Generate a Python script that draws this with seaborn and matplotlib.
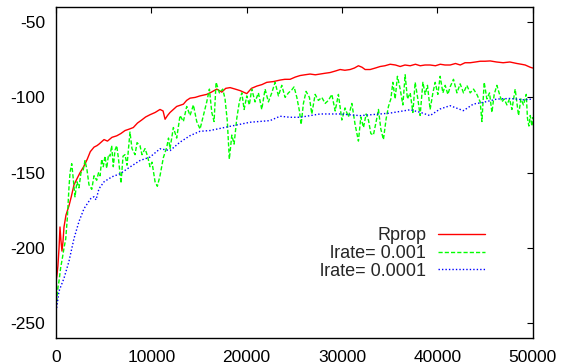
import pandas as pd
import matplotlib
matplotlib.use('Agg')
import matplotlib.pyplot as plt
import seaborn as sns

# Values
red_x = [0, 100, 200, 320, 420, 520, 630, 730, 840, 1050, 1360, 1600, 1890, 2200, 2520, 2900,
         3280, 3600, 3990, 4300, 4510, 5040, 5400, 5870, 6370, 6800, 7240, 7700, 8110, 8550,
         8990, 9400, 9860, 10400, 10910, 11230, 11440, 11700, 11960, 12660, 13360, 13700, 14060,
         14600, 15110, 15810, 16300, 16860, 17390, 17800, 18260, 18800, 19310, 20010, 20500,
         21060, 21600, 22110, 22800, 23500, 24000, 24550, 25100, 25600, 26100, 26650, 27200,
         27700, 28200, 28750, 29300, 29800, 30300, 30850, 31300, 31720, 32100, 32420, 32950,
         33500, 34000, 34500, 35050, 35600, 36100, 36600, 37150, 37700, 38200, 38700, 39240,
         39800, 40300, 40800, 41340, 41900, 42400, 42900, 43440, 44000, 44500, 45000, 45540,
         46200, 46900, 47600, 48340, 48800, 49210, 49740, 50000]
red_y = [-222, -218, -212, -200, -186, -195, -202, -196, -186, -178, -172, -166, -158, -154,
         -150, -146, -141, -136, -133, -132, -131, -128, -129, -126.5, -125.5, -124, -122, -121,
         -120, -117, -115, -113, -111.5, -110, -108, -109, -114.5, -112, -110, -106, -104.5,
         -102, -100.5, -100, -99, -98, -96.5, -94.5, -96.5, -94, -93.5, -94.5, -95.5, -97.5,
         -94, -92.5, -91.5, -90, -89.5, -88.5, -88, -88, -86.5, -85.5, -85, -84.5, -85, -84.5,
         -84, -83.5, -82.5, -81.5, -82, -81.5, -80.5, -79, -80, -81.5, -81.5, -80.5, -79.5, -79,
         -78, -78.5, -79.5, -78.5, -79, -78, -79, -78.5, -78.5, -79, -78, -78.5, -78.5, -77.5,
         -78.5, -77, -77, -76.5, -76, -76, -75.8, -76.5, -77, -76.5, -77.5, -78, -78.5, -80,
         -80.5]

green_x = [0, 70, 210, 315, 490, 660, 840, 1020, 1190, 1360, 1470, 1650, 1780, 1990, 2200,
           2410, 2620, 2860, 3040, 3250, 3460, 3750, 3990, 4270, 4460, 4620, 4800, 4960, 5140,
           5320, 5510, 5670, 5840, 6010, 6190, 6370, 6560, 6820, 7030, 7240, 7450, 7760, 7970,
           8290, 8500, 8810, 9020, 9340, 9600, 9860, 10070, 10390, 10630, 10910, 11260, 11620,
           11800, 11960, 12310, 12660, 13010, 13360, 13710, 14060, 14410, 14760, 15110, 15460,
           15810, 16090, 16340, 16580, 16790, 17140, 17490, 17730, 17970, 18180, 18440, 18680,
           18960, 19230, 19490, 19730, 20010, 20280, 20530, 20880, 21230, 21580, 21930, 22280,
           22630, 22980, 23330, 23680, 24030, 24380, 24730, 24970, 25260, 25530, 25710, 25950,
           26230, 26580, 26830, 27180, 27520, 27880, 28230, 28570, 28930, 29280, 29620, 29980,
           30320, 30670, 31030, 31370, 31720, 31970, 32250, 32530, 32770, 33020, 33290, 33580,
           33820, 34070, 34340, 34630, 34870, 35120, 35330, 35570, 35810, 36100, 36380, 36620,
           36860, 37150, 37430, 37670, 37950, 38190, 38480, 38720, 38960, 39240, 39530, 39770,
           40050, 40290, 40580, 40820, 41100, 41340, 41690, 42050, 42390, 42740, 43090, 43440,
           43790, 44140, 44490, 44670, 44910, 45190, 45470, 45720, 45960, 46240, 46520, 46770,
           47010, 47290, 47570, 47820, 48160, 48510, 48760, 49030, 49320, 49450, 49600, 49740,
           49910, 50000]
green_y = [-240, -235, -226, -222, -213, -207, -200, -194, -180, -160, -150, -144, -152, -166,
           -156, -160, -150, -148, -142, -148, -158, -161, -152, -155, -150, -152, -141, -146,
           -139, -147, -138, -139, -132, -146, -135, -132, -141, -157, -139, -138, -145, -123,
           -134, -138, -130, -132, -138, -134, -139, -146, -143, -156, -159, -152, -140, -133,
           -127, -134, -120, -127, -112, -116, -106, -112, -105, -116, -121, -112, -103, -94.5,
           -110, -116, -90, -97, -94.5, -101, -116, -141, -125, -131, -114, -103, -97, -108, -99,
           -105, -94.5, -103, -97, -108, -94.5, -103, -97, -90, -99, -92, -100, -97, -95, -93,
           -100, -109, -118, -104, -96, -100, -111, -98, -102, -100, -104, -102, -98, -109, -98,
           -115, -107, -113, -104, -118, -129, -113, -120, -111, -115, -124, -125, -116, -108,
           -121, -128, -114, -106, -101, -90, -101, -86, -94.5, -105, -85, -101, -97, -110, -90,
           -101, -112, -90, -98, -92, -108, -97, -90, -98, -86, -97, -92, -98, -93, -88, -97,
           -91, -97, -92, -97, -94.5, -98, -103, -116, -90, -101, -97, -110, -98, -92, -98,
           -103, -101, -105, -101, -108, -94.5, -112, -101, -105, -98, -114, -119, -112, -119,
           -113]

blue_x = [0, 70, 315, 840, 1360, 1890, 2410, 2940, 3640, 3990, 4200, 4510, 5040, 5870, 6710,
          7760, 8810, 9860, 10910, 11960, 13010, 14060, 15100, 16150, 18250, 20350, 22450,
          23500, 24550, 25600, 27700, 29800, 31900, 34000, 35050, 37150, 38200, 39230, 40280,
          41330, 42730, 43780, 44820, 46230, 47620, 49020, 50000]
blue_y = [-242, -239.8, -228.6, -220, -208.8, -193.6, -182.4, -173.8, -167.2, -165.9, -168,
          -160.6, -156, -152.7, -150.7, -146.2, -141.9, -139.6, -134.1, -135.3, -129.7, -125.4,
          -122.5, -122, -119.2, -116.5, -115.4, -112.5, -113.2, -113.2, -111, -111, -112.1, -111,
          -110.4, -108.2, -109.9, -112.1, -107.7, -105.5, -108.8, -104.4, -103.3, -101.1,
          -100.7, -101.6, -101.1]

x_ticks = [0, 10000, 20000, 30000, 40000, 50000]
y_ticks = [-250, -200, -150, -100, -50]

sns.set_style('white')
plt.rcParams['font.family'] = ['Liberation Sans', 'DejaVu Sans']
plt.rcParams['font.size'] = 12.5

fig = plt.figure(figsize=(5.61, 3.64), dpi=100)
ax = fig.add_axes([0.0998, 0.0701, 0.8498, 0.9107])

sns.lineplot(x=red_x, y=red_y, ax=ax, color='#ff0000', linewidth=1,
             sort=False, estimator=None, label='Rprop')
sns.lineplot(x=green_x, y=green_y, ax=ax, color='#00ff00', linewidth=1,
             linestyle=(0, (3, 1.5)), sort=False, estimator=None, label='lrate= 0.001')
sns.lineplot(x=blue_x, y=blue_y, ax=ax, color='#0000ff', linewidth=1,
             linestyle=(0, (1, 1.5)), sort=False, estimator=None, label='lrate= 0.0001')

ax.set_xlim(0, 50000)
ax.set_ylim(-260, -40)
ax.set_xticks(x_ticks)
ax.set_yticks(y_ticks)
ax.set_xticklabels([str(t) for t in x_ticks])
ax.set_yticklabels([str(t) for t in y_ticks])
ax.tick_params(direction='in', length=4, width=0.8, top=True, right=True,
               labelsize=12.5, colors='black')
ax.tick_params(axis='x', pad=8.5)
ax.tick_params(axis='y', pad=8)
for s in ax.spines.values():
    s.set_color('black')
    s.set_linewidth(1)
ax.set_xlabel('')
ax.set_ylabel('')

ax.legend(loc='upper right', bbox_to_anchor=(485 / 561, 1 - 227 / 364),
          bbox_transform=fig.transFigure, frameon=False, markerfirst=False,
          handlelength=2.6, handletextpad=0.66, labelspacing=0.05,
          borderpad=0, borderaxespad=0, fontsize=13)

fig.savefig('out.png', dpi=100)
